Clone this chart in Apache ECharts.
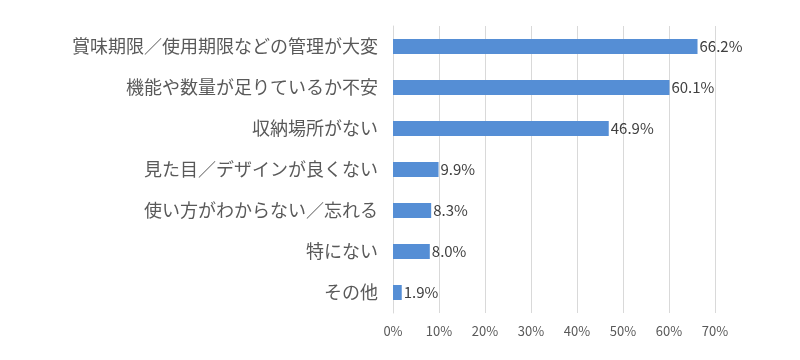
<!DOCTYPE html>
<html><head><meta charset="utf-8">
<script src="https://cdn.jsdelivr.net/npm/echarts@6/dist/echarts.min.js"></script>
<style>html,body{margin:0;padding:0;background:#fff}#c{width:800px;height:360px}</style>
</head><body><div id="c"></div>
<script>
const categories = ["賞味期限／使用期限などの管理が大変","機能や数量が足りているか不安","収納場所がない","見た目／デザインが良くない","使い方がわからない／忘れる","特にない","その他"];
const values = [66.2, 60.1, 46.9, 9.9, 8.3, 8.0, 1.9];
const xTicks = [0, 10, 20, 30, 40, 50, 60, 70];

const chart = echarts.init(document.getElementById('c'));
chart.setOption({
  animation: false,
  grid: {left: 393, right: 85, top: 26, bottom: 47, containLabel: false},
  xAxis: {
    type: 'value', min: xTicks[0], max: xTicks[xTicks.length-1], interval: 10,
    axisLine: {show: false}, axisTick: {show: false},
    splitLine: {lineStyle: {color: '#d9d9d9', width: 1}},
    axisLabel: {formatter: v => v + '%', color: '#595959', fontSize: 13, margin: 12, fontFamily: 'Noto Sans CJK JP'}
  },
  yAxis: {
    type: 'category', data: categories, inverse: true,
    axisLine: {show: true, lineStyle: {color: '#d9d9d9'}}, axisTick: {show: false},
    axisLabel: {color: '#595959', fontSize: 18, margin: 15, fontFamily: 'Noto Sans CJK JP'}
  },
  series: [{
    type: 'bar', data: values, barWidth: 15,
    itemStyle: {color: '#558ed5'},
    label: {show: true, position: 'right', distance: 2, formatter: p => p.value.toFixed(1) + '%',
      color: '#404040', fontSize: 15, fontFamily: 'Noto Sans CJK JP'}
  }]
});
</script></body></html>
